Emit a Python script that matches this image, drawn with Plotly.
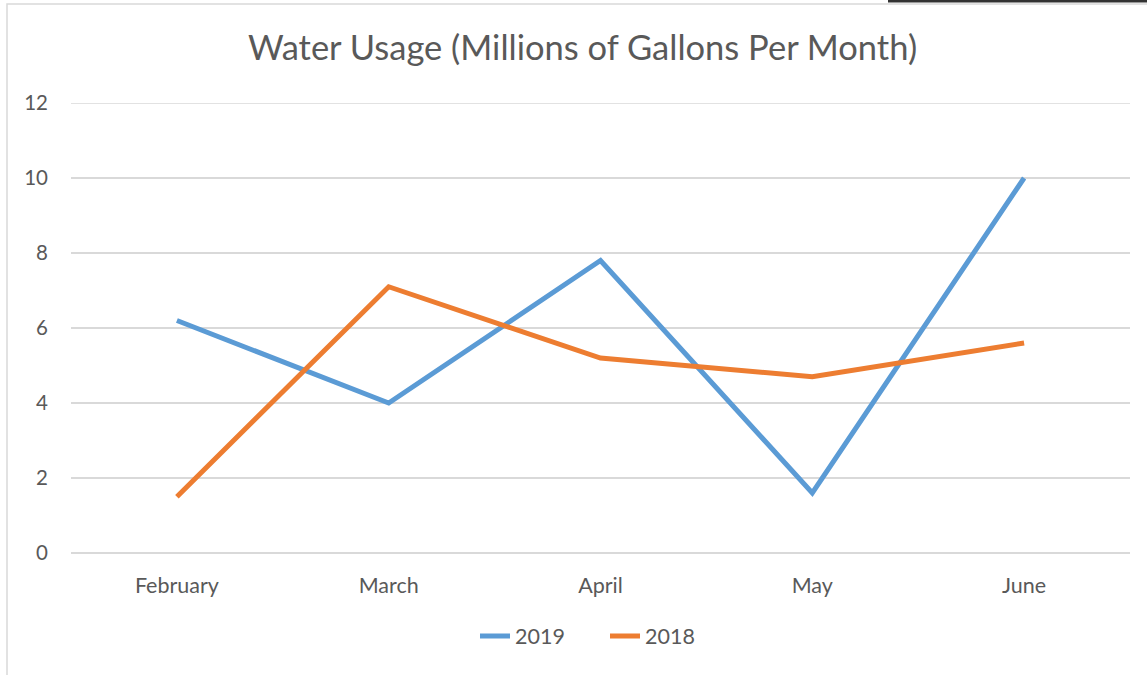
import plotly.graph_objects as go

months = ["February", "March", "April", "May", "June"]
usage_2019 = [6.2, 4.0, 7.8, 1.6, 10.0]
usage_2018 = [1.5, 7.1, 5.2, 4.7, 5.6]
y_ticks = [0, 2, 4, 6, 8, 10, 12]

FONT = "Lato"
TXT = "#595959"
GRID = "#d9d9d9"

fig = go.Figure()
fig.add_trace(go.Scatter(x=months, y=usage_2019, name="2019", mode="lines",
                         line=dict(color="#5B9BD5", width=5)))
fig.add_trace(go.Scatter(x=months, y=usage_2018, name="2018", mode="lines",
                         line=dict(color="#ED7D31", width=5)))

L, R, T, B = 71, 17, 103, 122
W, H = 1147, 675
pw = W - L - R
ph = H - T - B

def px(x):
    return (x - L) / pw

def py(y):
    return (H - B - y) / ph

fig.update_layout(
    width=W, height=H,
    margin=dict(l=L, r=R, t=T, b=B),
    paper_bgcolor="white", plot_bgcolor="white",
    font=dict(family=FONT, color=TXT, size=21),
    title=dict(text="Water Usage (Millions of Gallons Per Month)",
               x=px(582.5), xref="paper", xanchor="center",
               y=1 - 48 / H, yanchor="middle",
               font=dict(size=34.5, color=TXT, family=FONT)),
    xaxis=dict(range=[-0.5, 4.5], showgrid=False, showline=False,
               zeroline=False, ticks="", ticklabelstandoff=17,
               tickfont=dict(size=21.5, color=TXT)),
    yaxis=dict(range=[0, 12], tickvals=y_ticks, showgrid=True,
               gridcolor=GRID, gridwidth=1.5, zeroline=True,
               zerolinecolor=GRID, zerolinewidth=1.5, showline=False,
               ticks="", ticklabelstandoff=22,
               tickfont=dict(size=20.5, color=TXT)),
    legend=dict(orientation="h", x=px(605), xanchor="center",
                y=py(636), yanchor="middle",
                font=dict(size=21.5, color=TXT), entrywidth=85),
    showlegend=True,
    shapes=[
        dict(type="line", xref="paper", yref="y",
             x0=0, x1=1, y0=y_ticks[-1], y1=y_ticks[-1],
             line=dict(color=GRID, width=1.5), layer="below"),
        dict(type="rect", xref="paper", yref="paper",
             x0=px(7), x1=px(1160), y0=py(4), y1=py(690),
             line=dict(color=GRID, width=1.5), fillcolor="rgba(0,0,0,0)",
             layer="below"),
        dict(type="rect", xref="paper", yref="paper",
             x0=px(888), x1=px(1150), y0=py(0), y1=py(2.5),
             line=dict(width=0), fillcolor="#333333", layer="above"),
    ],
)

fig.write_html("out.html", config={"displayModeBar": False},
               post_script="document.body.style.margin='0';document.body.style.overflow='hidden';")
